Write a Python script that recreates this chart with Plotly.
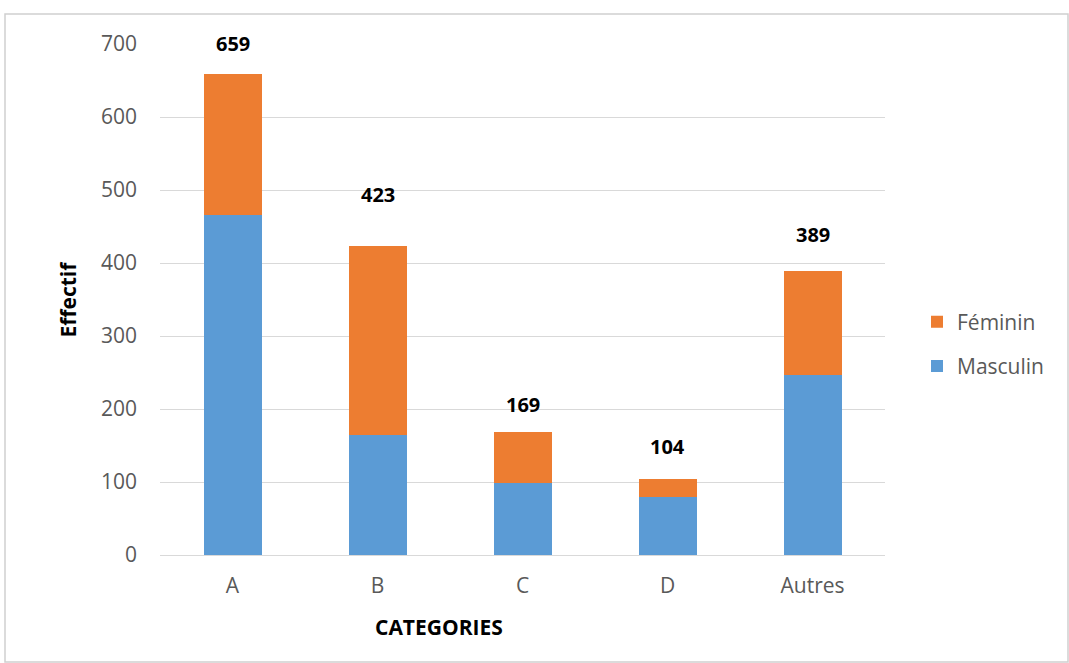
import plotly.graph_objects as go

# Effectifs par catégorie et par sexe
categories = ["A", "B", "C", "D", "Autres"]
masculin = [466, 164, 98, 80, 247]
feminin = [193, 259, 71, 24, 142]
totaux = [659, 423, 169, 104, 389]
y_ticks = [0, 100, 200, 300, 400, 500, 600, 700]

# Décalage vertical (px) du centre des étiquettes de total au-dessus des barres
label_shift = [30, 52, 27, 33, 37]

BLUE = "#5B9BD5"
ORANGE = "#ED7D31"
GREY_TXT = "#595959"
GRID = "#D9D9D9"
FONT = "Open Sans"

fig = go.Figure()
fig.add_trace(go.Bar(
    x=categories, y=masculin, name="Masculin", marker_color=BLUE,
    marker_line_width=0, legendgroup="m", legendrank=2,
))
fig.add_trace(go.Bar(
    x=categories, y=feminin, name="Féminin", marker_color=ORANGE,
    marker_line_width=0, legendgroup="f", legendrank=1,
))

for cat, tot, dy in zip(categories, totaux, label_shift):
    fig.add_annotation(
        x=cat, y=tot, text=f"<b>{tot}</b>", showarrow=False,
        yshift=dy, yanchor="middle", font=dict(family=FONT, size=20, color="#000000"),
    )

# Titres des axes
fig.add_annotation(
    xref="paper", yref="paper", x=(439 - 160) / 725, y=(555 - 627) / 511,
    text="<b>CATEGORIES</b>", showarrow=False, xanchor="center", yanchor="middle",
    font=dict(family=FONT, size=21, color="#000000"),
)
fig.add_annotation(
    xref="paper", yref="paper", x=(67 - 160) / 725, y=0.5,
    text="<b>Effectif</b>", showarrow=False, textangle=-90,
    xanchor="center", yanchor="middle",
    font=dict(family=FONT, size=21, color="#000000"),
)

# Cadre du graphique
fig.add_shape(
    type="rect", xref="paper", yref="paper",
    x0=(5 - 160) / 725, x1=(1068 - 160) / 725,
    y0=(555 - 662) / 511, y1=(555 - 14) / 511,
    line=dict(color="#D0D0D0", width=1.5), layer="below",
)

fig.update_layout(
    barmode="stack",
    bargap=0.6,
    width=1069, height=663,
    margin=dict(l=160, r=184, t=44, b=108),
    paper_bgcolor="white", plot_bgcolor="white",
    font=dict(family=FONT, size=20, color=GREY_TXT),
    legend=dict(
        x=(917 - 160) / 725, y=(555 - 344) / 511, xanchor="left", yanchor="middle",
        traceorder="grouped", tracegroupgap=14,
        font=dict(family=FONT, size=21, color=GREY_TXT),
        itemwidth=30,
    ),
    showlegend=True,
)
fig.update_yaxes(
    range=[0, 700], tickvals=y_ticks, showgrid=True, gridcolor=GRID, gridwidth=1,
    zeroline=False, showline=False, ticks="", ticklabelstandoff=22,
    tickfont=dict(family=FONT, size=21, color=GREY_TXT),
)
fig.update_xaxes(
    showline=True, linecolor=GRID, linewidth=1, ticks="", ticklabelstandoff=12,
    tickfont=dict(family=FONT, size=21, color=GREY_TXT),
)

fig.write_html("out.html")
